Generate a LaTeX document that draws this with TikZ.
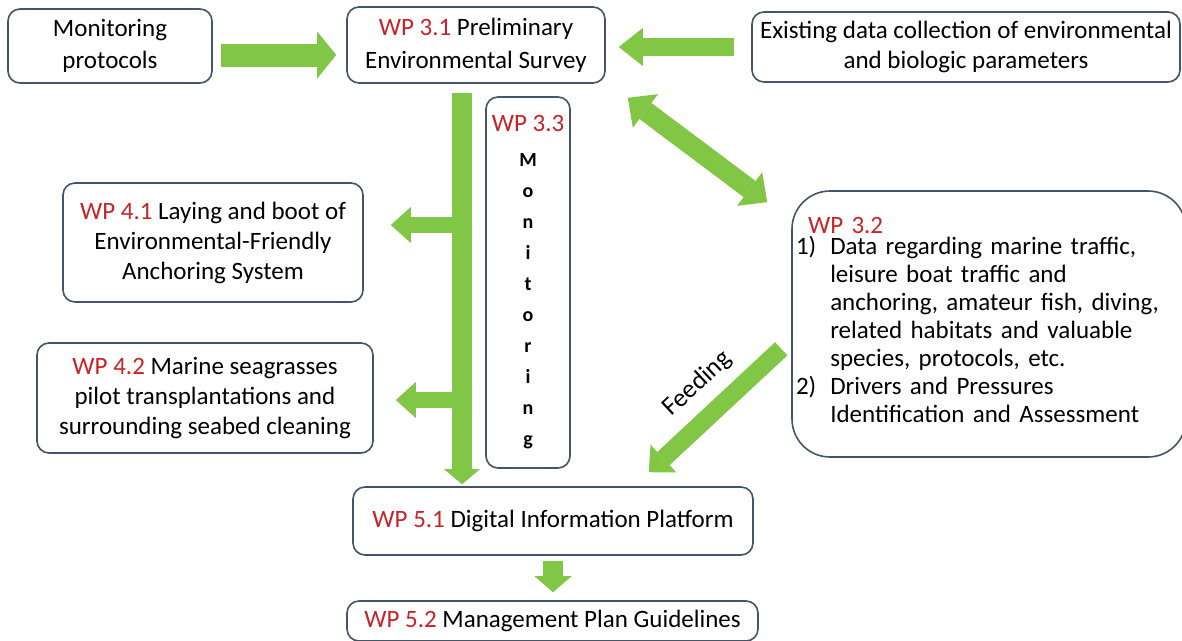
\documentclass[tikz,border=0pt]{standalone}
\usepackage{fontspec}
\setmainfont{Carlito}
\usetikzlibrary{arrows.meta}
\definecolor{wpred}{RGB}{200,35,40}
\definecolor{arrowgreen}{RGB}{130,198,70}
\definecolor{boxline}{RGB}{68,84,106}
\newcommand{\wpid}[1]{\textcolor{wpred}{WP #1}}
\newcommand{\vl}[1]{\textbf{\fontsize{20}{31}\selectfont #1}}
\tikzset{
  wpbox/.style={
    draw=boxline, line width=1.6pt, rounded corners=12pt,
    align=center, inner sep=2pt,
    font=\fontsize{25}{30}\selectfont
  },
  bigarrow/.style={
    draw=arrowgreen, line width=20pt,
    -{Triangle[length=18pt,width=40pt,line width=0pt]}
  }
}

\begin{document}
\begin{tikzpicture}[x=1pt, y=-1pt]
  \clip (0,0) rectangle (1182,640);
  \fill[white] (0,0) rectangle (1182,640);

  % Top row
  \node[wpbox, minimum width=204pt, minimum height=74pt, font=\fontsize{25}{32}\selectfont] (mon) at (110,46) {Monitoring\\protocols};
  \node[wpbox, minimum width=258pt, minimum height=76pt, font=\fontsize{25}{33}\selectfont] (wp31) at (476,45) {\wpid{3.1} Preliminary\\Environmental Survey};
  \node[wpbox, minimum width=428pt, minimum height=70pt] (exist) at (966,47) {Existing data collection of environmental\\and biologic parameters};

  % Monitoring column
  \node[wpbox, minimum width=84pt, minimum height=371pt, font=\fontsize{25}{31}\selectfont] (wp33) at (528,282.5)
    {\wpid{3.3}\\[4pt] \vl{M}\\\vl{o}\\\vl{n}\\\vl{i}\\\vl{t}\\\vl{o}\\\vl{r}\\\vl{i}\\\vl{n}\\\vl{g}};

  % Left side
  \node[wpbox, minimum width=300pt, minimum height=119pt] (wp41) at (213,242.5) {\wpid{4.1} Laying and boot of\\Environmental-Friendly\\Anchoring System};
  \node[wpbox, minimum width=336pt, minimum height=110pt] (wp42) at (205,398) {\wpid{4.2} Marine seagrasses\\pilot transplantations and\\surrounding seabed cleaning};

  % Right side
  \node[wpbox, rounded corners=38pt, minimum width=394pt, minimum height=266pt, text width=386pt, align=left, inner xsep=4pt, font=\fontsize{25}{28}\selectfont] (wp32) at (989,324)
    {\hspace*{12pt}\wpid{3.2}\\
     \begin{tabular}{@{}l@{\hspace{14pt}}l@{}}
       1) & Data regarding marine traffic,\\
          & leisure boat traffic and\\
          & anchoring, amateur fish, diving,\\
          & related habitats and valuable\\
          & species, protocols, etc.\\
       2) & Drivers and Pressures\\
          & Identification and Assessment
     \end{tabular}};

  % Bottom
  \node[wpbox, minimum width=400pt, minimum height=68pt] (wp51) at (553,521) {\wpid{5.1} Digital Information Platform};
  \node[wpbox, minimum width=411pt, minimum height=40pt] (wp52) at (552.5,621) {\wpid{5.2} Management Plan Guidelines};

  % Inputs to the survey
  \draw[bigarrow, line width=23pt, -{Triangle[length=19pt,width=47pt,line width=0pt]}, shorten <=8pt, shorten >=10pt]
    (mon.east |- 0,55) -- (wp31.west |- 0,55);
  \draw[bigarrow, line width=18pt, -{Triangle[length=24pt,width=38pt,line width=0pt]}, shorten <=17pt, shorten >=13pt]
    (exist.west) -- (exist.west -| wp31.east);

  % Main trunk and branches
  \coordinate (trunk) at (462,93);
  \draw[bigarrow, -{Triangle[length=15pt,width=36pt,line width=0pt]}, shorten >=2pt] (trunk) -- (trunk |- wp51.north);
  \draw[bigarrow, line width=16pt, -{Triangle[length=20pt,width=36pt,line width=0pt]}, shorten >=27pt]
    (trunk |- 0,225) -- (wp41.east |- 0,225);
  \draw[bigarrow, line width=16pt, -{Triangle[length=20pt,width=36pt,line width=0pt]}, shorten >=22pt]
    (trunk |- 0,400) -- (wp42.east |- 0,400);

  % Survey <-> WP 3.2
  \draw[bigarrow, {Triangle[length=22pt,width=42pt,line width=0pt]}-{Triangle[length=22pt,width=42pt,line width=0pt]}]
    ([shift={(22,14)}]wp31.south east) -- ([shift={(-24,12)}]wp32.north west);

  % Feeding
  \draw[bigarrow, line width=18pt, -{Triangle[length=20pt,width=38pt,line width=0pt]}]
    ([shift={(-10,-109)}]wp32.south west) -- ([shift={(-105,-14)}]wp51.north east)
    node[pos=0.47, sloped, above=8pt, font=\fontsize{26}{30}\selectfont] (feed) {Feeding};

  % Platform to guidelines
  \draw[bigarrow, -{Triangle[length=16pt,width=37pt,line width=0pt]}, shorten <=5pt, shorten >=8pt]
    (wp51.south) -- (wp51.south |- wp52.north);

\end{tikzpicture}
\end{document}
